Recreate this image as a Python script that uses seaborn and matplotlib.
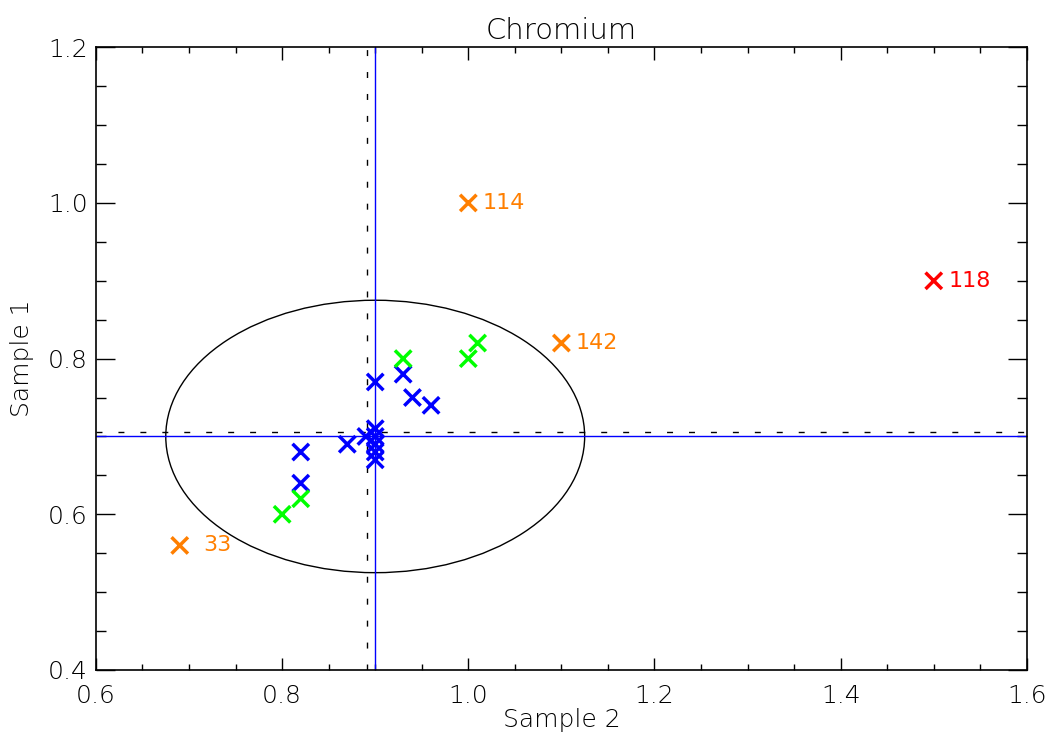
import matplotlib
matplotlib.use("Agg")
import matplotlib.pyplot as plt
from matplotlib.patches import Ellipse
from matplotlib.ticker import MultipleLocator, FormatStrFormatter
import seaborn as sns
import pandas as pd

# ---- data ----
blue_x = [0.90, 0.93, 0.94, 0.96, 0.90, 0.89, 0.90, 0.87, 0.90, 0.90, 0.90, 0.82, 0.82]
blue_y = [0.77, 0.78, 0.75, 0.74, 0.71, 0.70, 0.70, 0.69, 0.69, 0.68, 0.67, 0.68, 0.64]
green_x = [0.93, 1.00, 1.01, 0.82, 0.80]
green_y = [0.80, 0.80, 0.82, 0.62, 0.60]
orange_x = [0.69, 1.00, 1.10]
orange_y = [0.56, 1.00, 0.82]
orange_labels = ["33", "114", "142"]
red_x = [1.50]
red_y = [0.90]
red_labels = ["118"]

mean_x, mean_y = 0.90, 0.70          # solid blue lines
median_x, median_y = 0.891, 0.706    # dashed black lines
ell_w, ell_h = 0.45, 0.35            # ellipse full width / height

title = "Chromium"
xlabel = "Sample 2"
ylabel = "Sample 1"

sns.set_theme(style="white")
plt.rcParams['font.family'] = ['DejaVu Sans']
plt.rcParams['lines.scale_dashes'] = False
plt.rcParams['text.color'] = 'black'
plt.rcParams['axes.labelcolor'] = 'black'
plt.rcParams['xtick.color'] = 'black'
plt.rcParams['ytick.color'] = 'black'

df = pd.DataFrame({
    "x": blue_x + green_x + orange_x + red_x,
    "y": blue_y + green_y + orange_y + red_y,
    "g": ["blue"] * len(blue_x) + ["green"] * len(green_x)
         + ["orange"] * len(orange_x) + ["red"] * len(red_x),
})
palette = {"blue": "#0000ff", "green": "#00ff00", "orange": "#ff7f00", "red": "#ff0000"}

fig = plt.figure(figsize=(10.51, 7.33), dpi=100)
ax = fig.add_axes([0.0913, 0.086, 0.8857, 0.8495])

ax.add_patch(Ellipse((mean_x, mean_y), ell_w, ell_h, fill=False, ec="black", lw=1.0, zorder=1))
ax.axvline(median_x, color="black", lw=1.0, ls=(0, (4.3, 11.5)), zorder=1)
ax.axhline(median_y, color="black", lw=1.0, ls=(0, (4.3, 11.5)), zorder=1)
ax.axvline(mean_x, color="#0000ff", lw=1.0, zorder=1)
ax.axhline(mean_y, color="#0000ff", lw=1.0, zorder=1)

sns.scatterplot(data=df, x="x", y="y", hue="g", palette=palette, marker="x",
                s=140, linewidth=2.5, legend=False, ax=ax, zorder=3)

for xv, yv, lab in zip(orange_x, orange_y, orange_labels):
    off = 24 if lab == "33" else 14
    ax.annotate(lab, (xv, yv), xytext=(off, 0), textcoords="offset pixels",
                color="#ff7f00", fontsize=16, va="center", ha="left")
for xv, yv, lab in zip(red_x, red_y, red_labels):
    ax.annotate(lab, (xv, yv), xytext=(15, 0), textcoords="offset pixels",
                color="#ff0000", fontsize=16, va="center", ha="left")

ax.set_xlim(0.6, 1.6)
ax.set_ylim(0.4, 1.2)
ax.xaxis.set_major_locator(MultipleLocator(0.2))
ax.xaxis.set_minor_locator(MultipleLocator(0.05))
ax.yaxis.set_major_locator(MultipleLocator(0.2))
ax.yaxis.set_minor_locator(MultipleLocator(0.05))
ax.xaxis.set_major_formatter(FormatStrFormatter("%.1f"))
ax.yaxis.set_major_formatter(FormatStrFormatter("%.1f"))
ax.tick_params(axis="x", which="major", direction="in", length=9, width=1, top=True, bottom=True,
               labelsize=18, pad=10)
ax.tick_params(axis="x", which="minor", direction="in", length=4.5, width=1, top=True, bottom=True)
ax.tick_params(axis="y", which="major", direction="in", length=14, width=1, left=True, right=True,
               labelsize=18, pad=6)
ax.tick_params(axis="y", which="minor", direction="in", length=7, width=1, left=True, right=True)
for lab in ax.get_xticklabels() + ax.get_yticklabels():
    lab.set_fontweight("light")
for sp in ax.spines.values():
    sp.set_color("black")
    sp.set_linewidth(1.2)

ax.set_title(title, fontsize=21, fontweight="light", pad=6)
ax.set_xlabel(xlabel, fontsize=18, fontweight="light", labelpad=0)
ax.set_ylabel(ylabel, fontsize=18, fontweight="light", labelpad=10)

fig.savefig("out.png", dpi=100)
